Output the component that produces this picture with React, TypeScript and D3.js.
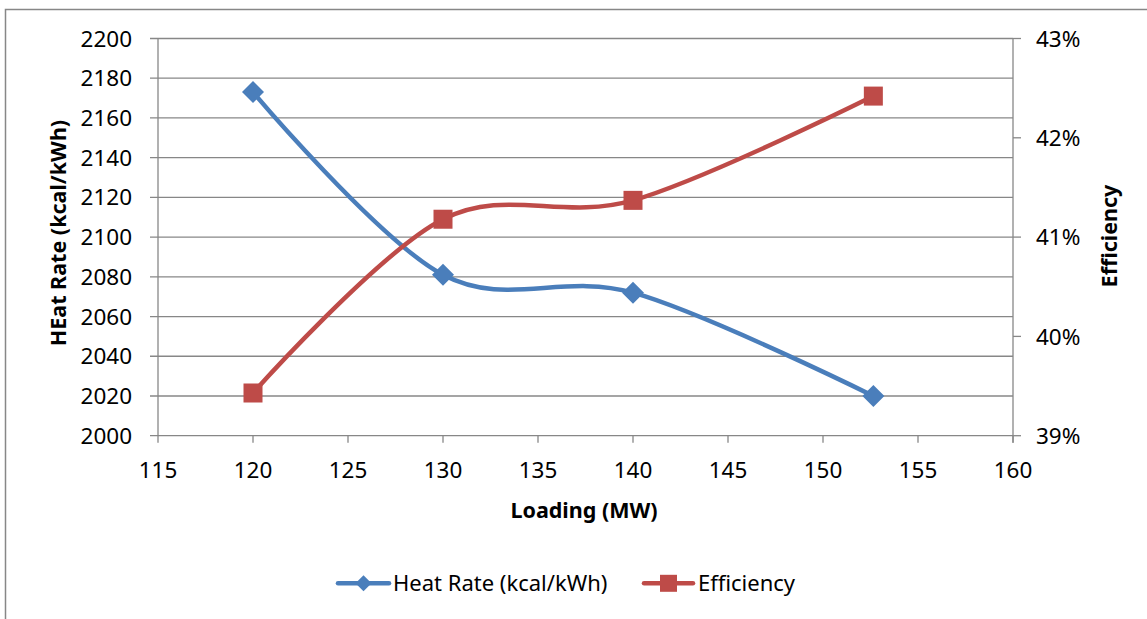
import React from "react";
import * as d3 from "d3";

const loading = [120, 130, 140, 152.65];
const heatRate = [2173, 2081, 2072, 2020];
const efficiency = [0.3943, 0.4118, 0.4137, 0.4242];
const xTicks = [115, 120, 125, 130, 135, 140, 145, 150, 155, 160];
const yLeftTicks = [2000, 2020, 2040, 2060, 2080, 2100, 2120, 2140, 2160, 2180, 2200];
const yRightTicks = [0.39, 0.4, 0.41, 0.42, 0.43];
const seriesNames = ["Heat Rate (kcal/kWh)", "Efficiency"];

const W = 1147;
const H = 619;
const left = 158;
const right = 1013;
const top = 38.5;
const bottom = 435.7;
const BLUE = "#4A7EBB";
const RED = "#BE4B48";
const GRID = "#878787";
const FONT = "'Noto Sans', 'Open Sans', sans-serif";

export default function App() {
  const x = d3.scaleLinear().domain([115, 160]).range([left, right]);
  const yL = d3.scaleLinear().domain([2000, 2200]).range([bottom, top]);
  const yR = d3.scaleLinear().domain([0.39, 0.43]).range([bottom, top]);
  const line = d3.line<[number, number]>().curve(d3.curveCardinal.tension(0));
  const hrPts: [number, number][] = loading.map((v, i) => [x(v), yL(heatRate[i])]);
  const efPts: [number, number][] = loading.map((v, i) => [x(v), yR(efficiency[i])]);
  const diamond = (cx: number, cy: number, r: number) =>
    `M${cx},${cy - r}L${cx + r},${cy}L${cx},${cy + r}L${cx - r},${cy}Z`;
  const pct = d3.format(".0%");

  return (
    <svg
      width={W}
      height={H}
      style={{ position: "absolute", left: 0, top: 0, display: "block", background: "#fff" }}
      fontFamily={FONT}
    >
      <rect x={5.5} y={9.5} width={W + 20} height={H + 20} fill="#fff" stroke={GRID} strokeWidth={1.5} />
      {/* gridlines */}
      {yLeftTicks.map((t) => (
        <line key={"g" + t} x1={left - 8} x2={right} y1={yL(t)} y2={yL(t)} stroke={GRID} strokeWidth={1.3} />
      ))}
      {/* axes */}
      <line x1={left} x2={left} y1={top} y2={bottom} stroke={GRID} strokeWidth={1.3} />
      <line x1={right} x2={right} y1={top} y2={bottom + 7} stroke={GRID} strokeWidth={1.3} />
      {yRightTicks.map((t) => (
        <line key={"rt" + t} x1={right} x2={right + 8} y1={yR(t)} y2={yR(t)} stroke={GRID} strokeWidth={1.3} />
      ))}
      {xTicks.map((t) => (
        <line key={"xt" + t} x1={x(t)} x2={x(t)} y1={bottom} y2={bottom + 7} stroke={GRID} strokeWidth={1.3} />
      ))}
      {/* tick labels */}
      {yLeftTicks.map((t) => (
        <text key={"yl" + t} x={132} y={yL(t)} dy="0.36em" textAnchor="end" fontSize={22.5} fill="#000">
          {t}
        </text>
      ))}
      {yRightTicks.map((t) => (
        <text key={"yr" + t} x={1036} y={yR(t)} dy="0.36em" textAnchor="start" fontSize={22.5} fill="#000">
          {pct(t)}
        </text>
      ))}
      {xTicks.map((t) => (
        <text key={"xl" + t} x={x(t)} y={470} dy="0.36em" textAnchor="middle" fontSize={22.5} fill="#000">
          {t}
        </text>
      ))}
      {/* axis titles */}
      <text x={584} y={518} textAnchor="middle" fontSize={21.5} fontWeight="bold" fill="#000">
        Loading (MW)
      </text>
      <text
        transform={`translate(65.5,233) rotate(-90)`}
        textAnchor="middle"
        fontSize={21.5}
        fontWeight="bold"
        fill="#000"
      >
        HEat Rate (kcal/kWh)
      </text>
      <text
        transform={`translate(1116.5,236) rotate(-90)`}
        textAnchor="middle"
        fontSize={21.5}
        fontWeight="bold"
        fill="#000"
      >
        Efficiency
      </text>
      {/* series */}
      <path d={line(hrPts) || ""} fill="none" stroke={BLUE} strokeWidth={4.5} strokeLinejoin="round" strokeLinecap="round" />
      <path d={line(efPts) || ""} fill="none" stroke={RED} strokeWidth={4.5} strokeLinejoin="round" strokeLinecap="round" />
      {hrPts.map(([px, py], i) => (
        <path key={"d" + i} d={diamond(px, py, 11)} fill={BLUE} />
      ))}
      {efPts.map(([px, py], i) => (
        <rect key={"s" + i} x={px - 9.5} y={py - 9.5} width={19} height={19} fill={RED} />
      ))}
      {/* legend */}
      <line x1={338} x2={389} y1={583.3} y2={583.3} stroke={BLUE} strokeWidth={4.5} strokeLinecap="round" />
      <path d={diamond(363.5, 583.3, 8)} fill={BLUE} />
      <text x={393} y={583.3} dy="0.36em" fontSize={22} fill="#000">
        {seriesNames[0]}
      </text>
      <line x1={644} x2={693} y1={583.3} y2={583.3} stroke={RED} strokeWidth={4.5} strokeLinecap="round" />
      <rect x={668.5 - 8.5} y={583.3 - 8.5} width={17} height={17} fill={RED} />
      <text x={698} y={583.3} dy="0.36em" fontSize={22} fill="#000">
        {seriesNames[1]}
      </text>
    </svg>
  );
}
